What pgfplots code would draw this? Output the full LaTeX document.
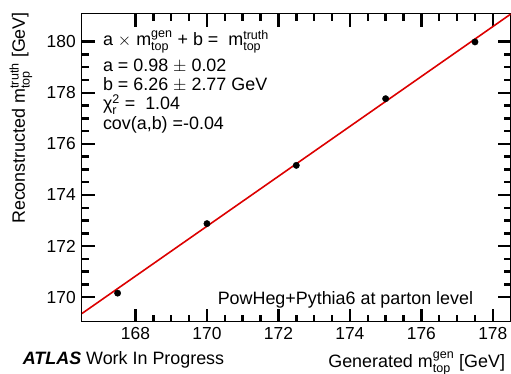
\documentclass[border=0pt]{standalone}
\usepackage{fontspec}
\setmainfont{Liberation Sans}
\usepackage{amsmath}
\usepackage{pgfplots}
\pgfplotsset{compat=1.18}
\definecolor{rootred}{RGB}{220,0,0}
\newcommand{\gs}[2]{$^{\text{#1}}_{\text{#2}}$}
\begin{document}
\fontsize{18}{20}\selectfont
\begin{tikzpicture}
\path[use as bounding box] (-82bp,-52bp) rectangle (429.8bp,322bp);
\begin{axis}[
  scale only axis, width=429.5bp, height=308.4bp,
  at={(0,0)}, anchor=south west,
  xmin=166.5, xmax=178.5, ymin=169.05, ymax=181.1,
  xtick={168,170,172,174,176,178}, ytick={170,172,174,176,178,180},
  minor x tick num=3, minor y tick num=3,
  tick align=inside,
  major tick length=13bp, minor tick length=7bp,
  axis line style={line width=1.2bp, black},
  every tick/.style={black, line width=2.5bp},
  tick label style={font=\fontsize{17.5}{20}\selectfont},
  /pgf/number format/assume math mode=true,
  clip=true,
]
\addplot[only marks, mark=*, mark size=3.2bp, black] coordinates {
  (167.5,170.16) (170,172.88) (172.5,175.16) (175,177.77) (177.5,179.99)
};
\addplot[rootred, line width=1.6bp] coordinates {(166.5,169.36) (178.5,181.08)};
\end{axis}
\node[anchor=base west, inner sep=0] at (21bp,276bp) {a $\times$ m\gs{gen}{top} + b =\ \ m\gs{truth}{top}};
\node[anchor=base west, inner sep=0] at (21bp,250bp) {a = 0.98 $\pm$ 0.02};
\node[anchor=base west, inner sep=0] at (21bp,231bp) {b = 6.26 $\pm$ 2.77 GeV};
\node[anchor=base west, inner sep=0] at (21bp,212bp) {χ\gs{2}{r} =\ \ 1.04};
\node[anchor=base west, inner sep=0] at (21bp,192bp) {cov(a,b) =-0.04};
\node[anchor=base east, inner sep=0] at (392bp,17bp) {PowHeg+Pythia6 at parton level};
\node[anchor=base west, inner sep=0] at (-59.3bp,-43bp) {{\bfseries\itshape ATLAS} Work In Progress};
\node[anchor=base east, inner sep=0] at (424bp,-46bp) {Generated m\gs{gen}{top} [GeV]};
\node[anchor=base east, inner sep=0, rotate=90] at (-57bp,310bp) {Reconstructed m\gs{truth}{top} [GeV]};
\end{tikzpicture}
\end{document}
